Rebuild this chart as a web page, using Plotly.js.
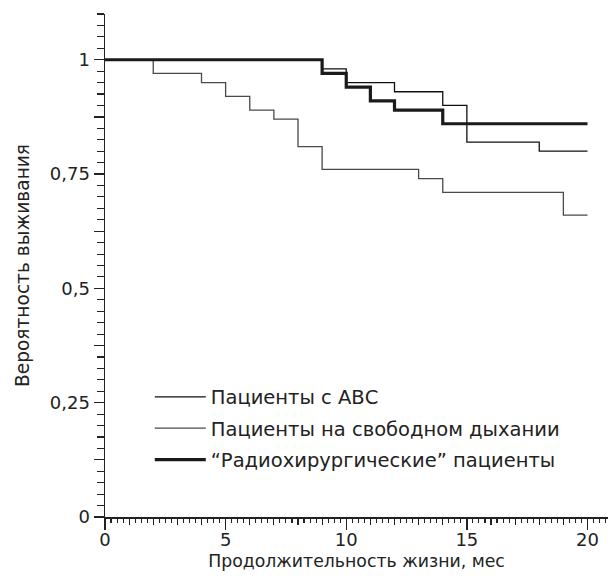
<!DOCTYPE html>
<html>
<head>
<meta charset="utf-8">
<script src="https://cdn.plot.ly/plotly-3.0.1.min.js"></script>
<style>html,body{margin:0;padding:0;background:#fff;}#chart{width:613px;height:576px;}</style>
</head>
<body>
<div id="chart"></div>
<script>
// Kaplan–Meier survival data (months, probability)
const abcMonths = [0, 9, 10, 12, 14, 15, 18, 20];
const abcSurv   = [1, 0.98, 0.95, 0.93, 0.90, 0.82, 0.80, 0.80];

const freeMonths = [0, 2, 4, 5, 6, 7, 8, 9, 13, 14, 19, 20];
const freeSurv   = [1, 0.97, 0.95, 0.92, 0.89, 0.87, 0.81, 0.76, 0.74, 0.71, 0.66, 0.66];

const radioMonths = [0, 9, 10, 11, 12, 14, 20];
const radioSurv   = [1, 0.97, 0.94, 0.91, 0.89, 0.86, 0.86];

const seriesNames = ["Пациенты с АВС", "Пациенты на свободном дыхании", "\u201cРадиохирургические\u201d пациенты"];

const yTickVals = [0, 0.125, 0.25, 0.375, 0.5, 0.625, 0.75, 0.875, 1];
const yTickText = ["0", "", "0,25", "", "0,5", "", "0,75", "", "1"];
const xTickVals = [0, 5, 10, 15, 20];
const xTickText = ["0", "5", "10", "15", "20"];

const FONT = "DejaVu Sans, Verdana, sans-serif";
const INK = "#222";

const traces = [
  {x: abcMonths, y: abcSurv, name: seriesNames[0], mode: "lines", line: {shape: "hv", color: "#111", width: 1.3}, legendgroup: "a"},
  {x: freeMonths, y: freeSurv, name: seriesNames[1], mode: "lines", line: {shape: "hv", color: "#4a4a4a", width: 1.3}, legendgroup: "b"},
  {x: radioMonths, y: radioSurv, name: seriesNames[2], mode: "lines", line: {shape: "hv", color: "#1a1a1a", width: 3.2}, legendgroup: "c"},
  // invisible carrier so the 1-month tick axis is drawn
  {x: xTickVals, y: xTickVals.map(function(){ return null; }), xaxis: "x2", yaxis: "y", mode: "lines",
   showlegend: false, hoverinfo: "skip", line: {color: "rgba(0,0,0,0)"}}
];

const layout = {
  width: 613, height: 576,
  margin: {l: 105, r: 5, t: 14, b: 59},
  paper_bgcolor: "#fff", plot_bgcolor: "#fff",
  font: {family: FONT, size: 18, color: INK},
  showlegend: true,
  legend: {x: 0.089, y: 0.277, xanchor: "left", yanchor: "top", bgcolor: "rgba(0,0,0,0)",
           font: {family: FONT, size: 19.5, color: INK}, tracegroupgap: 3, itemwidth: 51, traceorder: "grouped"},
  xaxis: {
    range: [0, 20.85], showgrid: false, zeroline: false,
    showline: true, linecolor: INK, linewidth: 1.5,
    ticks: "outside", ticklen: 11, tickwidth: 1.3, tickcolor: INK,
    tickmode: "array", tickvals: xTickVals, ticktext: xTickText,
    tickfont: {family: FONT, size: 18, color: INK}, ticklabelstandoff: -5,
    minor: {ticks: "outside", ticklen: 4, tickwidth: 1.1, tickcolor: INK, tickmode: "linear", tick0: 0, dtick: 0.25, showgrid: false},
    title: {text: "Продолжительность жизни, мес", font: {family: FONT, size: 17.3, color: INK}, standoff: 6},
    fixedrange: true
  },
  xaxis2: {
    overlaying: "x", anchor: "y", side: "bottom",
    range: [0, 20.85], showgrid: false, zeroline: false, showline: false,
    ticks: "outside", ticklen: 7, tickwidth: 1.2, tickcolor: INK,
    tickmode: "linear", tick0: 0, dtick: 1, showticklabels: false, fixedrange: true
  },
  yaxis: {
    range: [0, 1.1], showgrid: false, zeroline: false,
    showline: true, linecolor: INK, linewidth: 1.5,
    ticks: "outside", ticklen: 10, tickwidth: 1.3, tickcolor: INK,
    tickmode: "array", tickvals: yTickVals, ticktext: yTickText,
    tickfont: {family: FONT, size: 18, color: INK},
    minor: {ticks: "outside", ticklen: 7, tickwidth: 1.1, tickcolor: INK, tickmode: "linear", tick0: 0, dtick: 0.025, showgrid: false},
    title: {text: "Вероятность выживания", font: {family: FONT, size: 18.6, color: INK}, standoff: 15},
    fixedrange: true
  }
};

Plotly.newPlot("chart", traces, layout, {displayModeBar: false, staticPlot: true});
</script>
</body>
</html>
